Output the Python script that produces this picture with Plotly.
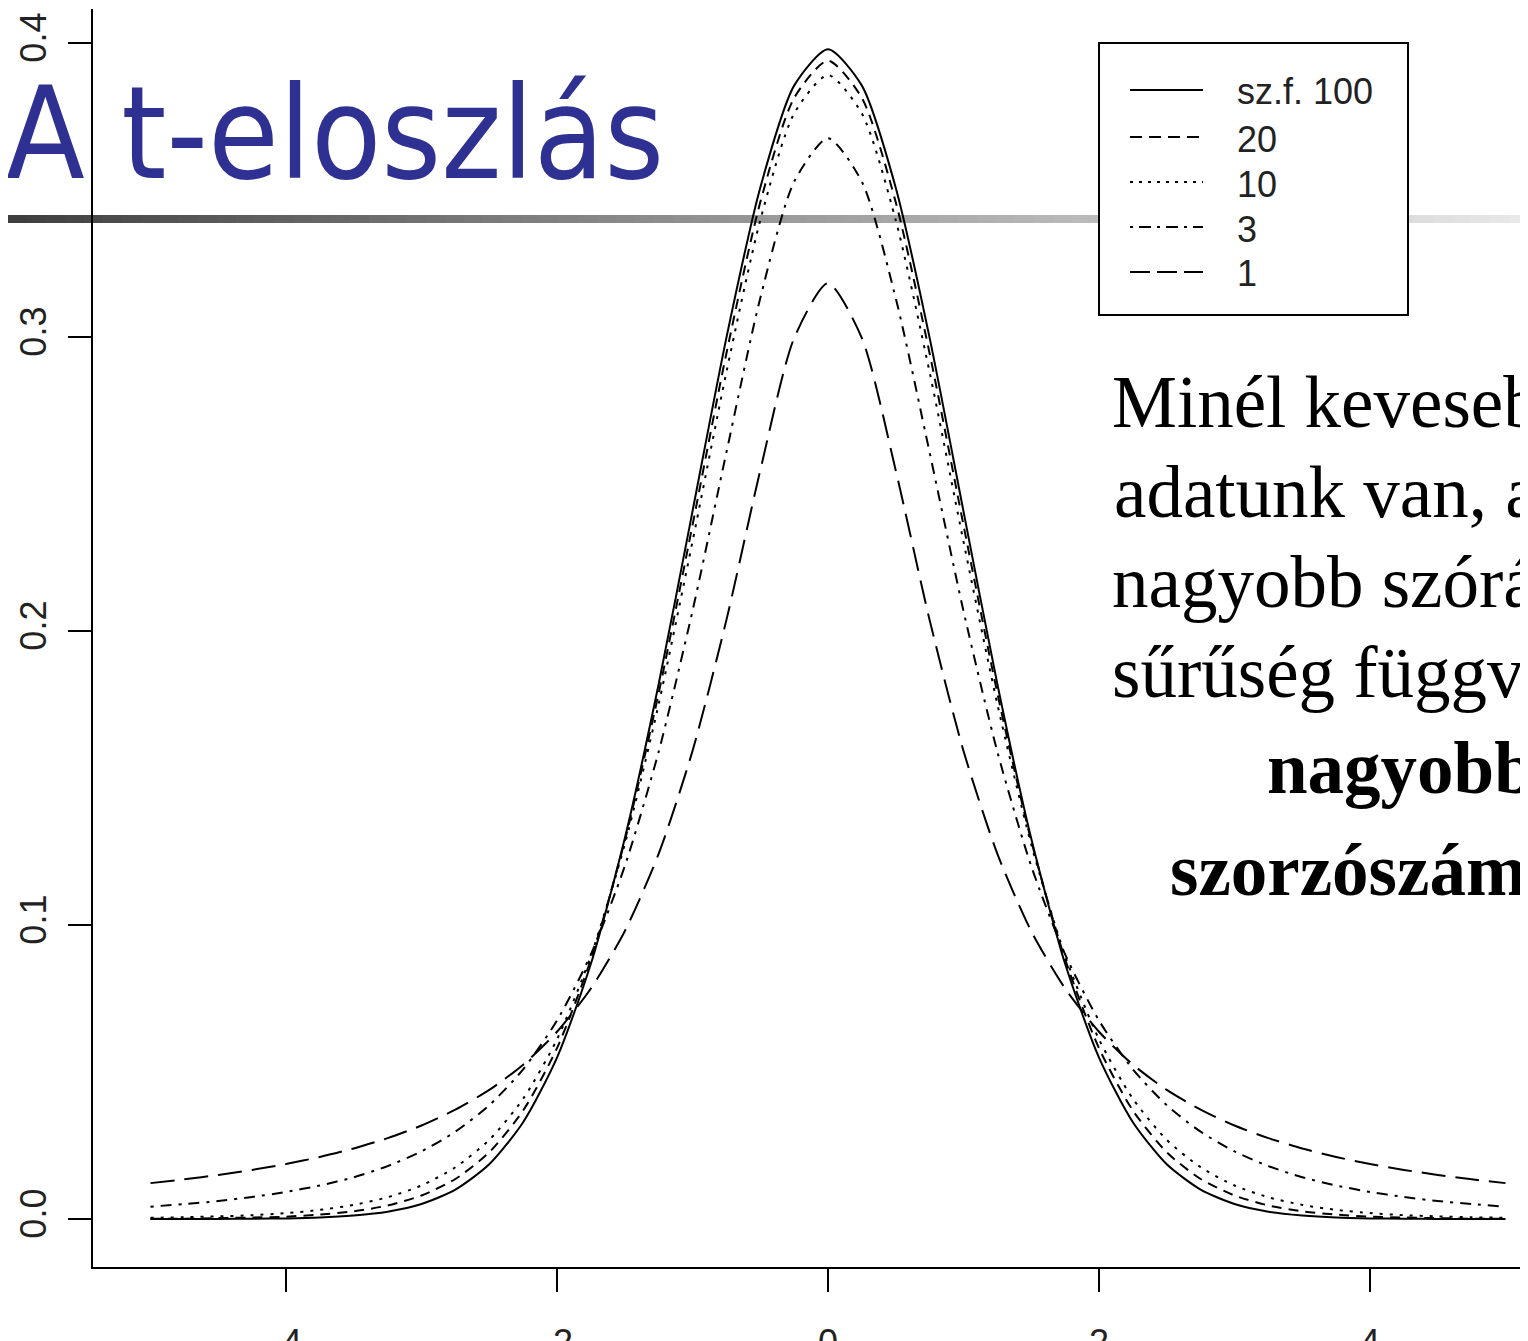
import plotly.graph_objects as go

# x grid and density values
x_vals = [-5.0, -4.75, -4.5, -4.25, -4.0, -3.75, -3.5, -3.25, -3.0, -2.75, -2.5, -2.25, -2.0, -1.75,
          -1.5, -1.25, -1.0, -0.75, -0.5, -0.25, 0.0, 0.25, 0.5, 0.75, 1.0, 1.25, 1.5, 1.75, 2.0,
          2.25, 2.5, 2.75, 3.0, 3.25, 3.5, 3.75, 4.0, 4.25, 4.5, 4.75, 5.0]

df100 = [0.0000, 0.0000, 0.0000, 0.0001, 0.0002, 0.0005, 0.0012, 0.0025, 0.0051, 0.0100, 0.0186,
         0.0329, 0.0549, 0.0868, 0.1294, 0.1819, 0.2407, 0.2997, 0.3508, 0.3855, 0.3979, 0.3855,
         0.3508, 0.2997, 0.2407, 0.1819, 0.1294, 0.0868, 0.0549, 0.0329, 0.0186, 0.0100, 0.0051,
         0.0025, 0.0012, 0.0005, 0.0002, 0.0001, 0.0000, 0.0000, 0.0000]
df20 = [0.0001, 0.0001, 0.0003, 0.0005, 0.0008, 0.0015, 0.0026, 0.0046, 0.0080, 0.0136, 0.0227,
        0.0369, 0.0581, 0.0883, 0.1286, 0.1788, 0.2360, 0.2944, 0.3458, 0.3813, 0.3940, 0.3813,
        0.3458, 0.2944, 0.2360, 0.1788, 0.1286, 0.0883, 0.0581, 0.0369, 0.0227, 0.0136, 0.0080,
        0.0046, 0.0026, 0.0015, 0.0008, 0.0005, 0.0003, 0.0001, 0.0001]
df10 = [0.0004, 0.0006, 0.0009, 0.0013, 0.0020, 0.0031, 0.0048, 0.0074, 0.0114, 0.0176, 0.0269,
        0.0409, 0.0611, 0.0895, 0.1274, 0.1751, 0.2304, 0.2880, 0.3397, 0.3760, 0.3891, 0.3760,
        0.3397, 0.2880, 0.2304, 0.1751, 0.1274, 0.0895, 0.0611, 0.0409, 0.0269, 0.0176, 0.0114,
        0.0074, 0.0048, 0.0031, 0.0020, 0.0013, 0.0009, 0.0006, 0.0004]
df3 = [0.0042, 0.0051, 0.0061, 0.0075, 0.0092, 0.0114, 0.0142, 0.0180, 0.0230, 0.0297, 0.0387,
       0.0509, 0.0675, 0.0900, 0.1200, 0.1589, 0.2068, 0.2607, 0.3132, 0.3528, 0.3676, 0.3528,
       0.3132, 0.2607, 0.2068, 0.1589, 0.1200, 0.0900, 0.0675, 0.0509, 0.0387, 0.0297, 0.0230,
       0.0180, 0.0142, 0.0114, 0.0092, 0.0075, 0.0061, 0.0051, 0.0042]
df1 = [0.0122, 0.0135, 0.0150, 0.0167, 0.0187, 0.0211, 0.0240, 0.0275, 0.0318, 0.0372, 0.0439,
       0.0525, 0.0637, 0.0784, 0.0979, 0.1242, 0.1592, 0.2037, 0.2546, 0.2996, 0.3183, 0.2996,
       0.2546, 0.2037, 0.1592, 0.1242, 0.0979, 0.0784, 0.0637, 0.0525, 0.0439, 0.0372, 0.0318,
       0.0275, 0.0240, 0.0211, 0.0187, 0.0167, 0.0150, 0.0135, 0.0122]

series_names = ["sz.f. 100", "20", "10", "3", "1"]
series_vals = [df100, df20, df10, df3, df1]
dashes = ["solid", "10px,7px", "3px,7px", "3px,7px,11px,7px", "24px,10px"]

x_ticks = [-4, -2, 0, 2, 4]
x_ticktext = ["-4", "-2", "0", "2", "4"]
y_ticks = [0.0, 0.1, 0.2, 0.3, 0.4]
y_ticktext = ["0.0", "0.1", "0.2", "0.3", "0.4"]

# the page body has an 8px margin, so the figure is shifted by that much
OFF = 8
W, H = 1528 - OFF, 1341 - OFF
ML, MR, MT, MB = 93 - OFF, 0, 9 - OFF, H - (1267 - OFF)


def px_x(p):
    # page pixel -> paper x
    return (p - OFF - ML) / (W - ML - MR)


def px_y(p):
    # page pixel -> paper y
    return (H - MB - (p - OFF)) / (H - MB - MT)


fig = go.Figure()
for name, vals, dash in zip(series_names, series_vals, dashes):
    fig.add_trace(go.Scatter(x=x_vals, y=vals, name=name, mode="lines", showlegend=False,
                             line=dict(color="black", width=2, dash=dash, shape="spline", smoothing=0.7)))

# gradient rule under the slide title
shapes = []
n_seg = 80
for i in range(n_seg):
    x0 = OFF + i * W / n_seg
    x1 = OFF + (i + 1) * W / n_seg + 1
    t = i / (n_seg - 1)
    g = int(62 + (232 - 62) * t ** 0.9)
    shapes.append(dict(type="rect", xref="paper", yref="paper", layer="below",
                       x0=px_x(x0), x1=px_x(x1), y0=px_y(223), y1=px_y(215),
                       line=dict(width=0), fillcolor=f"rgb({g},{g},{g})"))

# legend box drawn by hand so sample lines and labels sit like the original
shapes.append(dict(type="rect", xref="paper", yref="paper", x0=px_x(1099), x1=px_x(1408),
                   y0=px_y(315), y1=px_y(43), line=dict(color="black", width=2), fillcolor="white"))
legend_dashes = ["solid", "12px,7px", "3px,6px", "3px,6px,12px,6px", "20px,7px"]
legend_rows = [90, 137, 182, 227, 272]
annotations = []
for name, dash, yy in zip(series_names, legend_dashes, legend_rows):
    shapes.append(dict(type="line", xref="paper", yref="paper", x0=px_x(1130), x1=px_x(1203),
                       y0=px_y(yy), y1=px_y(yy), line=dict(color="black", width=2, dash=dash)))
    annotations.append(dict(text=name, xref="paper", yref="paper", x=px_x(1235), y=px_y(yy + 2),
                            xanchor="left", yanchor="middle", showarrow=False,
                            font=dict(family="Liberation Sans", size=36, color="#222")))

annotations.append(dict(text="A t-eloszlás", xref="paper", yref="paper", x=px_x(4), y=px_y(176 + 34),
                        xanchor="left", yanchor="bottom", showarrow=False,
                        font=dict(family="DejaVu Sans Condensed", size=128, color="#2E3192")))
side_lines = [("Minél kevesebb", 1110, 427, False),
              ("adatunk van, annál", 1112, 517, False),
              ("nagyobb szórású a", 1110, 607, False),
              ("sűrűség függvény:", 1110, 697, False),
              ("nagyobb", 1265, 793, True),
              ("szorzószám", 1168, 895, True)]
for txt, xp, base, bold in side_lines:
    annotations.append(dict(text=f"<b>{txt}</b>" if bold else txt, xref="paper", yref="paper",
                            x=px_x(xp), y=px_y(base + 18), xanchor="left", yanchor="bottom",
                            showarrow=False,
                            font=dict(family="Liberation Serif", size=73, color="black")))

fig.update_layout(
    width=W, height=H,
    margin=dict(l=ML, r=MR, t=MT, b=MB, autoexpand=False),
    plot_bgcolor="white", paper_bgcolor="white",
    shapes=shapes, annotations=annotations,
    showlegend=False,
    xaxis=dict(range=[(93 - 828) / 135.5, (1528 - 828) / 135.5], showgrid=False, zeroline=False,
               automargin=False,
               showline=True, linecolor="black", linewidth=2, ticks="outside", ticklen=23,
               tickwidth=2, tickcolor="black", tickvals=x_ticks, ticktext=x_ticktext,
               ticklabelstandoff=20, tickfont=dict(family="Liberation Sans", size=36, color="#222")),
    yaxis=dict(range=[(1219 - 1267) / 2940, (1219 - 9) / 2940], showgrid=False, zeroline=False,
               automargin=False,
               showline=True, linecolor="black", linewidth=2, ticks="outside", ticklen=23,
               tickwidth=2, tickcolor="black", tickvals=y_ticks, ticktext=y_ticktext,
               tickangle=-90, ticklabelstandoff=8,
               tickfont=dict(family="Liberation Sans", size=36, color="#222")),
)

fig.write_html("out.html")
